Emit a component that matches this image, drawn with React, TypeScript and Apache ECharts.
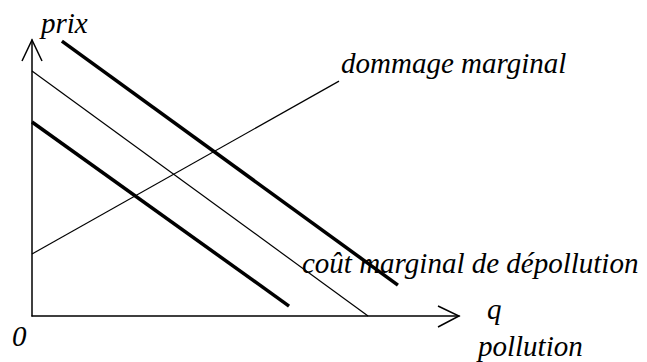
import React, { useEffect, useRef } from "react";
import * as echarts from "echarts";

// Lines in abstract (q, prix) units, axis range 0..100 on both axes
const upperCostLine = [[7.0, 99.6], [85.7, 11.2]];
const middleCostLine = [[0, 88.8], [78.7, 0]];
const lowerCostLine = [[0, 70.3], [60.2, 3.6]];
const damageLine = [[0, 22.5], [71.9, 85.1]];

const labelPrix = "prix";
const labelDamage = "dommage marginal";
const labelCost = "coût marginal de dépollution";
const labelQ = "q";
const labelPollution = "pollution";
const labelOrigin = "0";

export default function App() {
  const ref = useRef<HTMLDivElement>(null);
  useEffect(() => {
    if (!ref.current) return;
    const chart = echarts.init(ref.current, null, { renderer: "svg" });
    const fs = 29;
    const txt = (text: string, x: number, y: number) => ({
      type: "text",
      x,
      y,
      style: {
        text,
        fontFamily: "Liberation Serif",
        fontStyle: "italic",
        fontSize: fs,
        fill: "#000",
        align: "left",
        verticalAlign: "middle",
      },
    });
    const gx0 = 32, gy0 = 316, gx1 = 459, gy1 = 40;
    chart.setOption({
      animation: false,
      backgroundColor: "#fff",
      grid: { left: gx0, top: gy1, width: gx1 - gx0, height: gy0 - gy1, containLabel: false },
      xAxis: {
        type: "value", min: 0, max: 100,
        axisLine: { show: true, lineStyle: { color: "#000", width: 1.5 } },
        axisTick: { show: false }, axisLabel: { show: false }, splitLine: { show: false },
      },
      yAxis: {
        type: "value", min: 0, max: 100,
        axisLine: { show: true, lineStyle: { color: "#000", width: 1.5 } },
        axisTick: { show: false }, axisLabel: { show: false }, splitLine: { show: false },
      },
      series: [
        { type: "line", data: upperCostLine, symbol: "none", lineStyle: { color: "#000", width: 3.5 }, clip: false },
        { type: "line", data: middleCostLine, symbol: "none", lineStyle: { color: "#000", width: 1.2 }, clip: false },
        { type: "line", data: lowerCostLine, symbol: "none", lineStyle: { color: "#000", width: 3.5 }, clip: false },
        { type: "line", data: damageLine, symbol: "none", lineStyle: { color: "#000", width: 1.2 }, clip: false },
      ],
      graphic: [
        { type: "polyline", shape: { points: [[22, 61], [gx0, gy1], [42, 61]] }, style: { stroke: "#000", lineWidth: 1.5, fill: "none" } },
        { type: "polyline", shape: { points: [[438, 306], [gx1, gy0], [438, 327]] }, style: { stroke: "#000", lineWidth: 1.5, fill: "none" } },
        txt(labelPrix, 41, 23),
        txt(labelDamage, 341, 63),
        txt(labelCost, 302, 263),
        txt(labelQ, 487, 309),
        txt(labelPollution, 478, 346),
        txt(labelOrigin, 12, 336),
      ],
    });
    return () => chart.dispose();
  }, []);
  return <div ref={ref} style={{ width: 647, height: 362, position: "absolute", left: 0, top: 0 }} />;
}
